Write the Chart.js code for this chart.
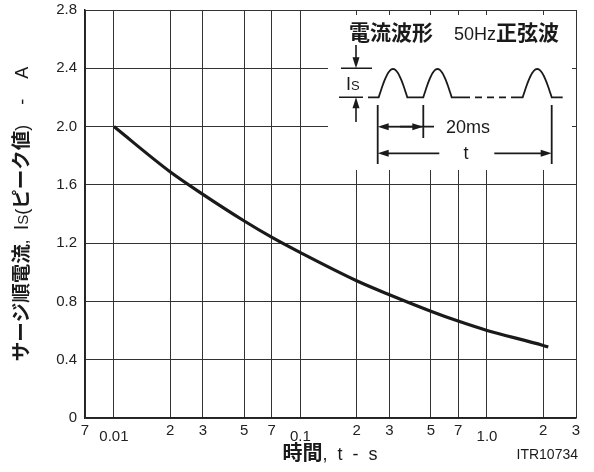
<!DOCTYPE html>
<html lang="ja">
<head>
    <meta charset="UTF-8">
    <meta name="viewport" content="width=device-width, initial-scale=1.0">
    <script src="https://cdn.jsdelivr.net/npm/chart.js"></script>
    <title>サージ順電流</title>
    <style>
        html, body { margin: 0; padding: 0; background: #fff; }
        #caja { width: 594px; height: 472px; position: relative; }
    </style>
</head>
<body>
    <div id="caja"><canvas id="grafico"></canvas></div>

    <script>
        // datos
        var tiempo = [0.01, 0.02, 0.03, 0.05, 0.07, 0.1, 0.2, 0.3, 0.5, 0.7, 1.0, 2.0, 2.13]
        var corriente = [2.0, 1.69, 1.535, 1.352, 1.241, 1.135, 0.942, 0.846, 0.733, 0.665, 0.601, 0.498, 0.487]
        var xTicks = [0.007, 0.01, 0.02, 0.03, 0.05, 0.07, 0.1, 0.2, 0.3, 0.5, 0.7, 1, 2, 3]
        var xTickLabels = ['7', '0.01', '2', '3', '5', '7', '0.1', '2', '3', '5', '7', '1.0', '2', '3']
        var yTicks = [0, 0.4, 0.8, 1.2, 1.6, 2.0, 2.4, 2.8]
        var yTickLabels = ['0', '0.4', '0.8', '1.2', '1.6', '2.0', '2.4', '2.8']

        var SANS = '"Liberation Sans", Arial, sans-serif'
        var CJK = '"Noto Sans CJK JP", sans-serif'
        var NEGRO = '#1a1a1a'

        function esDecada(i) {
            var l = xTickLabels[i]
            return l === '0.01' || l === '0.1' || l === '1.0'
        }

        // dibuja trozos de texto seguidos, cada uno con su fuente
        function trozos(ctx, partes, x, y, centrar) {
            var total = 0
            partes.forEach(function (p) { ctx.font = p.f; total += ctx.measureText(p.t).width })
            var px = centrar ? x - total / 2 : x
            partes.forEach(function (p) {
                ctx.font = p.f
                ctx.textBaseline = 'alphabetic'
                ctx.textAlign = 'left'
                ctx.fillText(p.t, px, y + (p.dy || 0))
                px += ctx.measureText(p.t).width
            })
        }

        function flecha(ctx, x0, y0, x1, y1) {
            // linea con punta en (x1, y1)
            var ang = Math.atan2(y1 - y0, x1 - x0)
            ctx.beginPath()
            ctx.moveTo(x0, y0)
            ctx.lineTo(x1 - Math.cos(ang) * 8, y1 - Math.sin(ang) * 8)
            ctx.stroke()
            ctx.beginPath()
            ctx.moveTo(x1, y1)
            ctx.lineTo(x1 - Math.cos(ang) * 11 + Math.sin(ang) * 3.5, y1 - Math.sin(ang) * 11 - Math.cos(ang) * 3.5)
            ctx.lineTo(x1 - Math.cos(ang) * 11 - Math.sin(ang) * 3.5, y1 - Math.sin(ang) * 11 + Math.cos(ang) * 3.5)
            ctx.closePath()
            ctx.fill()
        }

        function joroba(ctx, xa, xb, base, pico) {
            ctx.lineTo(xa, base)
            for (var k = 0; k <= 30; k++) {
                var f = k / 30
                ctx.lineTo(xa + (xb - xa) * f, base - (base - pico) * Math.sin(Math.PI * f))
            }
        }

        var extras = {
            id: 'extras',
            afterDraw: function (chart) {
                var ctx = chart.ctx
                ctx.save()
                ctx.fillStyle = NEGRO
                ctx.strokeStyle = NEGRO

                // titulo eje y
                ctx.save()
                ctx.translate(21, 214)
                ctx.rotate(-Math.PI / 2)
                trozos(ctx, [
                    { t: 'サージ順電流', f: 'bold 19.5px ' + CJK },
                    { t: ',  ', f: '17px ' + SANS },
                    { t: 'I', f: '20px ' + SANS },
                    { t: 'S', f: '15px ' + SANS },
                    { t: '(', f: '18px ' + SANS },
                    { t: 'ピーク値', f: 'bold 19.5px ' + CJK },
                    { t: ')    -    A', f: '18px ' + SANS }
                ], 0, 7, true)
                ctx.restore()

                // titulo eje x
                trozos(ctx, [
                    { t: '時間', f: 'bold 20px ' + CJK },
                    { t: ',  t  -  s', f: '18px ' + SANS }
                ], 330, 460, true)

                ctx.font = '14px ' + SANS
                ctx.textAlign = 'right'
                ctx.textBaseline = 'middle'
                ctx.fillText('ITR10734', 578, 455)

                // recuadro de la forma de onda
                ctx.fillStyle = '#fff'
                ctx.fillRect(328, 15, 244, 155)
                ctx.fillStyle = NEGRO

                trozos(ctx, [
                    { t: '電流波形', f: 'bold 21px ' + CJK }
                ], 349, 40, false)
                trozos(ctx, [
                    { t: '50Hz', f: '18px ' + SANS },
                    { t: '正弦波', f: 'bold 21px ' + CJK }
                ], 454, 40, false)

                ctx.lineWidth = 1.6
                // Is
                ctx.beginPath()
                ctx.moveTo(341, 68.3); ctx.lineTo(372, 68.3)
                ctx.moveTo(339, 97.3); ctx.lineTo(363, 97.3)
                ctx.stroke()
                flecha(ctx, 356, 45, 356, 68.3)
                flecha(ctx, 356, 122, 356, 97.3)
                trozos(ctx, [
                    { t: 'I', f: '18px ' + SANS },
                    { t: 'S', f: '13px ' + SANS }
                ], 346, 90, false)

                // onda
                ctx.lineWidth = 1.8
                ctx.beginPath()
                ctx.moveTo(368, 97.3)
                joroba(ctx, 378.7, 407.3, 97.3, 69)
                joroba(ctx, 423.3, 451.7, 97.3, 69)
                ctx.lineTo(463, 97.3)
                ctx.stroke()
                ctx.save()
                ctx.setLineDash([7, 5])
                ctx.beginPath()
                ctx.moveTo(463, 97.3); ctx.lineTo(514, 97.3)
                ctx.stroke()
                ctx.restore()
                ctx.beginPath()
                ctx.moveTo(514, 97.3)
                joroba(ctx, 522.7, 551.7, 97.3, 69)
                ctx.lineTo(562.7, 97.3)
                ctx.stroke()

                // cotas
                ctx.beginPath()
                ctx.moveTo(377.7, 105); ctx.lineTo(377.7, 164)
                ctx.moveTo(423.3, 105); ctx.lineTo(423.3, 138)
                ctx.moveTo(551.7, 105); ctx.lineTo(551.7, 164)
                ctx.moveTo(400, 126.7); ctx.lineTo(434, 126.7)
                ctx.stroke()
                flecha(ctx, 400, 126.7, 377.7, 126.7)
                flecha(ctx, 400, 126.7, 423.3, 126.7)
                flecha(ctx, 439.3, 153.3, 377.7, 153.3)
                flecha(ctx, 494.3, 153.3, 551.7, 153.3)

                ctx.font = '18px ' + SANS
                ctx.textBaseline = 'middle'
                ctx.textAlign = 'left'
                ctx.fillText('20ms', 446, 128)
                ctx.textAlign = 'center'
                ctx.fillText('t', 466, 154)

                ctx.restore()
            }
        }

        var ctx = document.getElementById('grafico').getContext('2d')

        var grafico = new Chart(ctx, {
            type: 'line',
            data: {
                datasets: [{
                    label: 'Is',
                    data: tiempo.map(function (t, i) { return { x: t, y: corriente[i] } }),
                    borderColor: NEGRO,
                    borderWidth: 3.2,
                    pointRadius: 0,
                    cubicInterpolationMode: 'monotone',
                    fill: false
                }]
            },
            options: {
                responsive: true,
                maintainAspectRatio: false,
                animation: false,
                layout: { padding: { left: 0, top: 10, right: 18, bottom: 0 } },
                plugins: { legend: { display: false }, tooltip: { enabled: false } },
                scales: {
                    x: {
                        type: 'logarithmic',
                        min: 0.007,
                        max: 3,
                        afterBuildTicks: function (s) {
                            s.ticks = xTicks.map(function (v) { return { value: v } })
                        },
                        afterFit: function (s) {
                            s.height = 54
                            s.paddingLeft = 0
                            s.paddingRight = 0
                        },
                        grid: { color: '#333', lineWidth: 1, drawTicks: false },
                        border: { color: '#222', width: 1.5 },
                        ticks: {
                            autoSkip: false,
                            maxRotation: 0,
                            padding: 4,
                            color: '#222',
                            font: function (c) {
                                return { family: SANS, size: 15, lineHeight: esDecada(c.index) ? 0.65 : 1.2 }
                            },
                            callback: function (v, i) {
                                return esDecada(i) ? ['', xTickLabels[i]] : xTickLabels[i]
                            }
                        }
                    },
                    y: {
                        min: 0,
                        max: 2.8,
                        afterBuildTicks: function (s) {
                            s.ticks = yTicks.map(function (v) { return { value: v } })
                        },
                        afterFit: function (s) {
                            s.width = 85
                            s.paddingTop = 0
                            s.paddingBottom = 0
                        },
                        grid: { color: '#333', lineWidth: 1, drawTicks: false },
                        border: { color: '#222', width: 1.5 },
                        ticks: {
                            padding: 8,
                            color: '#222',
                            font: { family: SANS, size: 15 },
                            callback: function (v, i) { return yTickLabels[i] }
                        }
                    }
                }
            },
            plugins: [extras]
        })
    </script>
</body>
</html>
